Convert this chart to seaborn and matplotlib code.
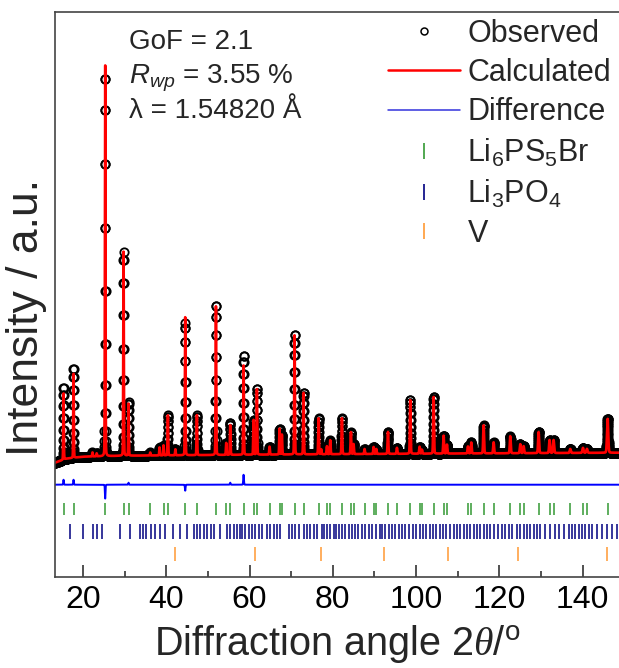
import numpy as np
import pandas as pd
import matplotlib
matplotlib.use("Agg")
import matplotlib.pyplot as plt
import seaborn as sns
from matplotlib.lines import Line2D

# ---------------- data ----------------
angle_min, angle_max, angle_step = 13.3, 149.0, 0.02

# background level (a.u.) at a few angles
bg_angle = [13.3, 16.0, 20.0, 30.0, 60.0, 100.0, 149.0]
bg_level = [114, 118, 120, 121, 122, 123, 124]

# reflections visible in the pattern: position (deg 2theta), observed and calculated heights (a.u.)
peak_pos = [15.35, 17.75, 22.3, 23.3, 25.35, 29.76, 30.96, 36.16, 38.4, 39.36,
            40.40, 42.2, 44.56, 47.36, 51.93, 54.41, 55.37, 58.57, 60.97, 61.77,
            64.81, 67.21, 67.77, 70.81, 72.97, 76.58, 77.2, 78.58, 79.38, 82.18,
            84.34, 84.98, 87.62, 89.79, 90.43, 93.23, 95.39, 98.59, 100.83, 101.39,
            104.19, 106.59, 107.39, 112.43, 113.23, 116.20, 118.60, 122.60, 125.0, 125.8,
            129.4, 132.04, 133.0, 137.0, 140.05, 141.0, 145.97]
peak_obs = [72, 90, 4, 3, 381, 204, 54, 3, 8, 10,
            40, 6, 132, 40, 150, 12, 32, 100, 35, 66,
            8, 26, 20, 120, 62, 36, 5, 8, 14, 36,
            22, 10, 5, 7, 5, 22, 6, 54, 7, 4,
            57, 18, 9, 7, 11, 28, 11, 17, 9, 7,
            21, 13, 13, 4, 5, 4, 34]
peak_calc = [67, 85, 4, 3, 395, 204, 52, 3, 8, 10,
             40, 6, 138, 40, 150, 12, 30, 90, 35, 66,
             8, 26, 20, 120, 62, 36, 5, 8, 14, 36,
             22, 10, 5, 7, 5, 22, 6, 54, 7, 4,
             57, 18, 9, 7, 11, 28, 11, 17, 9, 7,
             21, 13, 13, 4, 5, 4, 34]

diff_offset = 92

# reflection markers
ticks_li6ps5br = [15.35, 17.75, 25.35, 29.76, 30.96, 36.16, 39.36, 40.40, 44.56, 47.36,
                  51.93, 54.41, 55.37, 58.57, 60.97, 61.77, 64.81, 67.21, 67.77, 70.81,
                  72.97, 76.58, 78.58, 79.30, 82.18, 84.34, 84.98, 87.62, 89.79, 90.43,
                  93.23, 95.39, 98.59, 100.83, 101.39, 104.19, 106.59, 107.39, 112.43, 113.23,
                  116.20, 118.60, 122.60, 125.0, 125.8, 129.4, 132.04, 133.0, 137.0, 140.05,
                  141.0, 145.97]
ticks_li3po4 = [16.79, 19.99, 22.31, 23.35, 24.55, 28.80, 31.20, 33.76, 34.40, 35.20,
                36.32, 37.36, 38.40, 39.76, 41.60, 43.20, 44.96, 46.72, 47.36, 48.16,
                49.12, 49.76, 50.73, 51.37, 52.97, 54.57, 55.37, 56.17, 56.97, 57.61,
                58.17, 58.97, 59.77, 60.57, 61.37, 62.17, 62.97, 64.17, 64.97, 65.77,
                66.57, 67.21, 69.37, 70.17, 70.97, 71.77, 72.97, 73.77, 74.57, 75.37,
                76.17, 77.37, 77.78, 78.58, 79.38, 80.18, 80.82, 81.38, 82.18, 82.98,
                83.78, 84.58, 85.38, 85.94, 86.98, 87.78, 88.58, 89.38, 90.42, 91.23,
                91.79, 92.59, 93.39, 94.19, 94.99, 95.79, 96.59, 97.39, 98.19, 99.23,
                100.03, 100.83, 101.63, 102.43, 103.23, 104.03, 104.83, 105.63, 106.43, 107.23,
                108.19, 108.99, 109.79, 110.59, 111.39, 112.19, 112.99, 113.79, 114.60, 115.40,
                116.20, 117.00, 117.80, 118.60, 119.56, 120.60, 121.40, 122.20, 123.00, 124.20,
                125.00, 125.80, 126.60, 127.40, 128.20, 129.00, 129.80, 131.00, 132.20, 133.40,
                134.20, 135.40, 136.60, 137.40, 138.20, 139.00, 139.80, 140.60, 141.40, 142.20,
                143.40, 144.60, 145.80, 147.01, 148.21]
ticks_v = [42.2, 61.2, 77.2, 92.2, 107.6, 124.4, 145.8]

tick_rows = {"Li$_6$PS$_5$Br": (ticks_li6ps5br, 62, 74, "#339933"),
             "Li$_3$PO$_4$": (ticks_li3po4, 38, 53, "#000080"),
             "V": (ticks_v, 16, 30, "#ff9933")}

x_major = [20, 40, 60, 80, 100, 120, 140]
x_minor = [30, 50, 70, 90, 110, 130]

# ---------------- profile ----------------
tt = np.arange(angle_min, angle_max, angle_step)
bg = np.interp(tt, bg_angle, bg_level)


def profile(heights):
    y = np.zeros_like(tt)
    for p, h in zip(peak_pos, heights):
        fwhm = 0.15 + 0.06 * np.tan(np.radians(p / 2))
        d = (tt - p) / (fwhm / 2)
        g = np.exp(-np.log(2) * d ** 2)
        l = 1.0 / (1.0 + d ** 2)
        y += h * (0.12 * l + 0.88 * g)
    return y


obs = bg + profile(peak_obs)
calc = bg + profile(peak_calc)
df = pd.DataFrame({"tt": tt, "obs": obs, "calc": calc,
                   "diff": obs - calc + diff_offset})

# ---------------- style ----------------
sns.set_style("ticks")
plt.rcParams["font.family"] = ["Liberation Sans", "DejaVu Sans"]
plt.rcParams["mathtext.fontset"] = "custom"
plt.rcParams["mathtext.rm"] = "Liberation Sans"
plt.rcParams["mathtext.it"] = "Liberation Sans:italic"
plt.rcParams["mathtext.sf"] = "Liberation Serif:italic"

fig = plt.figure(figsize=(6.19, 6.68), dpi=100)
ax = fig.add_axes([55 / 619, 1 - 576.7 / 668, 1 - 55 / 619 + 0.002, 564.7 / 668])

sns.lineplot(data=df, x="tt", y="obs", ax=ax, estimator=None, sort=False,
             marker="o", linestyle="none", markersize=6, markerfacecolor="none",
             markeredgecolor="black", markeredgewidth=1.3, color="black", legend=False)
sns.lineplot(data=df, x="tt", y="calc", ax=ax, estimator=None, sort=False,
             color="#ff0000", linewidth=1.9, legend=False)
sns.lineplot(data=df, x="tt", y="diff", ax=ax, estimator=None, sort=False,
             color="#0000ff", linewidth=1.4, legend=False)

for name, (pos, y0, y1, col) in tick_rows.items():
    ax.vlines(pos, y0, y1, color=col, linewidth=1.1)

ax.set_xlim(angle_min, angle_max)
ax.set_ylim(0, 564.7)
ax.set_yticks([])
ax.set_xticks(x_major)
ax.set_xticks(x_minor, minor=True)
ax.tick_params(axis="x", which="major", direction="in", length=8.5, width=1.1,
               labelsize=23, pad=6, colors="#222222", labelcolor="black")
ax.tick_params(axis="x", which="minor", direction="in", length=4, width=1.1, colors="#222222")
for s in ["left", "bottom", "top"]:
    ax.spines[s].set_color("#444444")
    ax.spines[s].set_linewidth(1.2)
ax.spines["right"].set_visible(False)

ax.set_xlabel("Diffraction angle 2$\\mathsf{\\theta}$/$^{\\mathrm{o}}$", fontsize=28.5)
ax.xaxis.label.set_va("bottom")
ax.xaxis.set_label_coords(0.5, (576.7 - 666.5) / 564.7)
ax.set_ylabel("Intensity / a.u.", fontsize=32)
ax.yaxis.set_label_coords(-0.014, 0.46)

# annotations
fig.text(129 / 619, 1 - 49 / 668, "GoF = 2.1", fontsize=20, va="baseline")
fig.text(129 / 619, 1 - 83 / 668, "$R_{wp}$ = 3.55 %", fontsize=20, va="baseline")
fig.text(129 / 619, 1 - 118 / 668, "λ = 1.54820 Å", fontsize=20, va="baseline")

handles = [
    Line2D([], [], marker="o", linestyle="none", markersize=5, markerfacecolor="none",
           markeredgecolor="black", markeredgewidth=1.1),
    Line2D([], [], color="#ff0000", linewidth=1.8),
    Line2D([], [], color="#3333dd", linewidth=1.1),
]
labels = ["Observed", "Calculated", "Difference"]
for name, (pos, y0, y1, col) in tick_rows.items():
    handles.append(Line2D([], [], marker="|", linestyle="none", markersize=11,
                          markeredgewidth=1.2, color=col))
    labels.append(name)

ax.legend(handles, labels, loc="upper left", bbox_to_anchor=(388 / 619, 1 - 19 / 668),
          bbox_transform=fig.transFigure, frameon=False, fontsize=22, borderpad=0,
          borderaxespad=0, handlelength=2.35, handletextpad=0.25, labelspacing=0.3)

fig.savefig("out.png", dpi=100)
